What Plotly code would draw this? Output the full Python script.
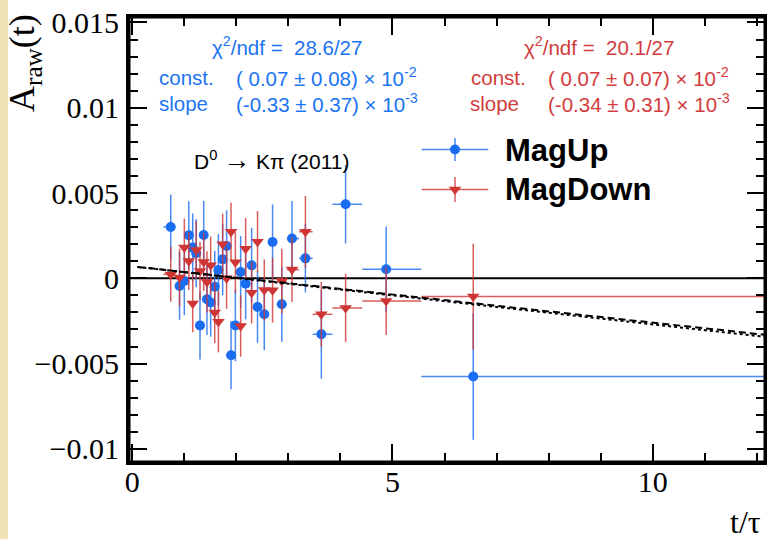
import plotly.graph_objects as go

# ---------------- data ----------------
t_mean = [0.741, 0.910, 1.002, 1.088, 1.163, 1.230, 1.303, 1.374, 1.437, 1.508,
          1.586, 1.657, 1.738, 1.814, 1.900, 1.983, 2.084, 2.180, 2.295, 2.408,
          2.538, 2.697, 2.874, 3.071, 3.328, 3.634, 4.100, 4.879, 6.552]
t_edges = [0.60, 0.83, 0.96, 1.05, 1.13, 1.20, 1.27, 1.34, 1.41, 1.47,
           1.55, 1.62, 1.70, 1.78, 1.86, 1.94, 2.03, 2.13, 2.24, 2.35,
           2.47, 2.61, 2.78, 2.97, 3.205, 3.467, 3.845, 4.42, 5.556, 20.0]

a_up = [0.00301, -0.00045, -0.00016, 0.00252, 0.00180, 0.00147, -0.00276, 0.00254, -0.00123, -0.00142,
        -0.00049, 0.00049, 0.00111, 0.00189, -0.00451, -0.00276, 0.00037, -0.00031, 0.00076, -0.00168,
        -0.00211, 0.00213, -0.00152, 0.00233, 0.00117, -0.00328, 0.00434, 0.00053, -0.00576]
e_up = [0.0019, 0.0020, 0.0020, 0.0020, 0.0020, 0.0020, 0.0020, 0.0020, 0.0021, 0.0020,
        0.0021, 0.0021, 0.0021, 0.0021, 0.0020, 0.0021, 0.0021, 0.0021, 0.0022, 0.0021,
        0.0021, 0.0022, 0.0022, 0.0022, 0.0020, 0.0026, 0.0023, 0.0025, 0.0037]

a_down = [0.00023, 0.00004, 0.00180, 0.00101, -0.00147, 0.00166, 0.00043, 0.00096, -0.00021, 0.00076,
          -0.00201, -0.00254, 0.00199, 0.00001, 0.00273, 0.00094, -0.00280, 0.00174, -0.00084, 0.00215,
          -0.00069, -0.00070, -0.00016, 0.00051, 0.00273, -0.00211, -0.00174, -0.00133, -0.00107]
e_down = [0.0016, 0.0017, 0.0017, 0.0017, 0.0017, 0.0017, 0.0017, 0.0017, 0.0018, 0.0017,
          0.0018, 0.0018, 0.0018, 0.0018, 0.0017, 0.0018, 0.0018, 0.0018, 0.0018, 0.0018,
          0.0018, 0.0019, 0.0019, 0.0019, 0.0021, 0.0019, 0.0020, 0.0020, 0.0031]

fit_up = (0.0007, -0.00033)     # const, slope
fit_down = (0.0007, -0.00034)
fit_t = [0.1, 12.16]

x_ticks = [0, 5, 10]
y_ticks = [-0.01, -0.005, 0, 0.005, 0.01, 0.015]

# ---------------- styling ----------------
BLUE = "#1a6cf0"
RED = "#cf3535"
BLUE_T = "#1b74f2"
RED_T = "#d23c3c"
SANS = "Liberation Sans"
SERIF = "Liberation Serif"

W, H = 767, 539
PL, PR, PT, PB = 129, 765, 17, 462


def fx(px):
    return (px - PL) / (PR - PL)


def fy(py):
    return (PB - py) / (PB - PT)


xm = [m - lo for m, lo in zip(t_mean, t_edges[:-1])]
xp = [hi - m for m, hi in zip(t_mean, t_edges[1:])]

fig = go.Figure()

fig.add_trace(go.Scatter(
    x=t_mean, y=a_up, mode="markers",
    marker=dict(symbol="circle", size=10, color=BLUE),
    error_y=dict(type="data", array=e_up, color="rgba(26,108,240,0.8)", thickness=1.5, width=0),
    error_x=dict(type="data", array=xp, arrayminus=xm, color="rgba(26,108,240,0.8)", thickness=1.5, width=0),
    name="MagUp"))

fig.add_trace(go.Scatter(
    x=t_mean, y=a_down, mode="markers",
    marker=dict(symbol="triangle-down", size=11, color=RED),
    error_y=dict(type="data", array=e_down, color="rgba(207,53,53,0.8)", thickness=1.5, width=0),
    error_x=dict(type="data", array=xp, arrayminus=xm, color="rgba(207,53,53,0.8)", thickness=1.5, width=0),
    name="MagDown"))

fig.add_trace(go.Scatter(
    x=fit_t, y=[fit_up[0] + fit_up[1] * t for t in fit_t], mode="lines",
    line=dict(color="black", width=2, dash="7px,4px"), hoverinfo="skip"))
fig.add_trace(go.Scatter(
    x=fit_t, y=[fit_down[0] + fit_down[1] * t for t in fit_t], mode="lines",
    line=dict(color="black", width=2, dash="3px,3px"), hoverinfo="skip"))

# legend samples on an overlay axis in pixel units
fig.add_trace(go.Scatter(
    x=[455], y=[149.5], xaxis="x2", yaxis="y2", mode="markers",
    marker=dict(symbol="circle", size=10, color=BLUE),
    error_x=dict(type="constant", value=33.3, color="rgba(26,108,240,0.8)", thickness=1.5, width=0),
    error_y=dict(type="constant", value=11.5, color="rgba(26,108,240,0.8)", thickness=1.5, width=0),
    hoverinfo="skip"))
fig.add_trace(go.Scatter(
    x=[455], y=[189.5], xaxis="x2", yaxis="y2", mode="markers",
    marker=dict(symbol="triangle-down", size=11, color=RED),
    error_x=dict(type="constant", value=33.3, color="rgba(207,53,53,0.8)", thickness=1.5, width=0),
    error_y=dict(type="constant", value=12.5, color="rgba(207,53,53,0.8)", thickness=1.5, width=0),
    hoverinfo="skip"))

axis_common = dict(
    showline=True, linewidth=3, linecolor="black", mirror="ticks",
    ticks="inside", ticklen=18, tickwidth=2, tickcolor="black",
    showgrid=False, zeroline=False,
    tickfont=dict(family=SERIF, size=30, color="black"),
)

fig.update_layout(
    width=W, height=H,
    margin=dict(l=PL, r=W - PR, t=PT, b=H - PB, autoexpand=False),
    paper_bgcolor="white", plot_bgcolor="white",
    showlegend=False,
    xaxis=dict(range=[-0.061, 12.157], tickmode="array", tickvals=x_ticks,
               ticktext=[str(v) for v in x_ticks], ticklabelstandoff=-9,
               minor=dict(ticks="inside", ticklen=9, tickwidth=2, tickcolor="black", dtick=1, tick0=0),
               **axis_common),
    yaxis=dict(range=[-0.01077, 0.01532], tickmode="array", tickvals=y_ticks,
               ticktext=["\u22120.01", "\u22120.005", "0", "0.005", "0.01", "0.015"],
               ticklabelstandoff=1,
               minor=dict(ticks="inside", ticklen=9, tickwidth=2, tickcolor="black", dtick=0.001, tick0=0),
               **axis_common),
    xaxis2=dict(overlaying="x", range=[PL, PR], visible=False, anchor="y2", fixedrange=True),
    yaxis2=dict(overlaying="y", range=[PB, PT], visible=False, anchor="x2", fixedrange=True),
)

shapes = [
    dict(type="rect", xref="paper", yref="paper", x0=fx(0), x1=fx(8), y0=fy(H), y1=fy(0),
         fillcolor="#efe2b6", line=dict(width=0), layer="below"),
    dict(type="line", xref="paper", yref="y", x0=0, x1=1, y0=0, y1=0,
         line=dict(color="black", width=2), layer="below"),
    dict(type="rect", xref="paper", yref="paper", x0=0, x1=1, y0=0, y1=1,
         line=dict(color="black", width=3), fillcolor="rgba(0,0,0,0)", layer="above"),
]
fig.update_layout(shapes=shapes)


def ann(px, py, text, color, size=20.5, family=SANS, xanchor="left", angle=0):
    fig.add_annotation(x=fx(px), y=fy(py), xref="paper", yref="paper", text=text,
                       showarrow=False, xanchor=xanchor, yanchor="middle", textangle=angle,
                       font=dict(family=family, size=size, color=color))


ann(210, 46, "\u03c7<sup>2</sup>/ndf =  28.6/27", BLUE_T)
ann(157, 77, "const.", BLUE_T)
ann(234, 77, "( 0.07 \u00b1 0.08) \u00d7 10<sup>-2</sup>", BLUE_T)
ann(157, 103, "slope", BLUE_T)
ann(234, 103, "(-0.33 \u00b1 0.37) \u00d7 10<sup>-3</sup>", BLUE_T)

ann(522, 46, "\u03c7<sup>2</sup>/ndf =  20.1/27", RED_T)
ann(469, 77, "const.", RED_T)
ann(546, 77, "( 0.07 \u00b1 0.07) \u00d7 10<sup>-2</sup>", RED_T)
ann(468, 103, "slope", RED_T)
ann(546, 103, "(-0.34 \u00b1 0.31) \u00d7 10<sup>-3</sup>", RED_T)

ann(192, 160, "D<sup>0</sup> <span style=\"font-size:27px\">\u2192</span> K\u03c0 (2011)", "black", size=21)
ann(503, 150, "<b>MagUp</b>", "black", size=31)
ann(503, 189, "<b>MagDown</b>", "black", size=31)

ann(24, 63, "A<sub>raw</sub>(t)", "black", size=36, family=SERIF, xanchor="center", angle=-90)
ann(763, 522, "t/\u03c4", "black", size=32, family=SERIF, xanchor="right")

fig.write_html("out.html")
